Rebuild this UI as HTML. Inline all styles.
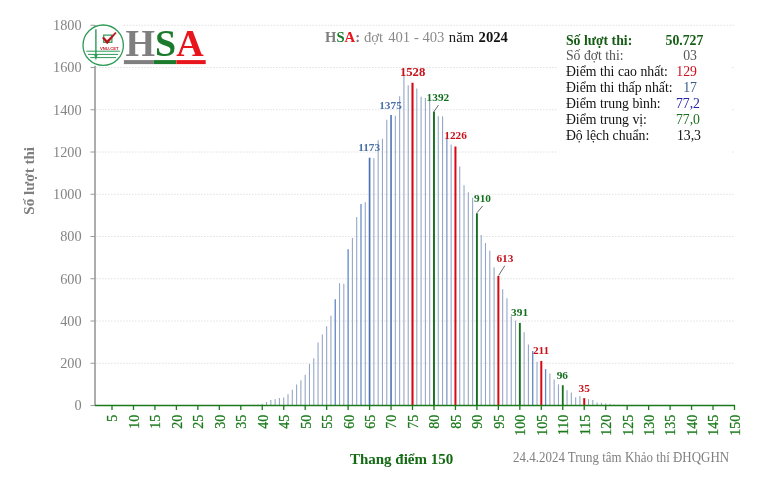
<!DOCTYPE html>
<html><head><meta charset="utf-8"><title>HSA</title>
<style>
html,body{margin:0;padding:0;background:#fff;}
body{width:770px;height:484px;overflow:hidden;font-family:"Liberation Serif",serif;}
svg{display:block;filter:blur(0.25px);font-family:"Liberation Serif",serif;}
</style></head><body>
<svg width="770" height="484" viewBox="0 0 770 484">
<rect width="770" height="484" fill="#fff"/>

<g stroke="#dfdfdf" stroke-width="0.9" stroke-dasharray="1.6 1.4" fill="none">
<line x1="96" y1="363.25" x2="734.5" y2="363.25"/>
<line x1="96" y1="321.00" x2="734.5" y2="321.00"/>
<line x1="96" y1="278.75" x2="734.5" y2="278.75"/>
<line x1="96" y1="236.50" x2="734.5" y2="236.50"/>
<line x1="96" y1="194.25" x2="734.5" y2="194.25"/>
<line x1="96" y1="152.00" x2="734.5" y2="152.00"/>
<line x1="96" y1="109.75" x2="734.5" y2="109.75"/>
<line x1="96" y1="67.50" x2="734.5" y2="67.50"/>
<line x1="123.5" y1="25.25" x2="734.5" y2="25.25"/>
</g>
<g fill="none">
<line x1="249.38" y1="405.50" x2="249.38" y2="404.87" stroke="#95a7c6" stroke-width="1.1"/>
<line x1="253.67" y1="405.50" x2="253.67" y2="404.65" stroke="#95a7c6" stroke-width="1.1"/>
<line x1="257.96" y1="405.50" x2="257.96" y2="404.44" stroke="#95a7c6" stroke-width="1.1"/>
<line x1="262.25" y1="405.50" x2="262.25" y2="403.81" stroke="#95a7c6" stroke-width="1.1"/>
<line x1="266.55" y1="405.50" x2="266.55" y2="402.12" stroke="#95a7c6" stroke-width="1.1"/>
<line x1="270.84" y1="405.50" x2="270.84" y2="400.01" stroke="#95a7c6" stroke-width="1.1"/>
<line x1="275.13" y1="405.50" x2="275.13" y2="399.37" stroke="#95a7c6" stroke-width="1.1"/>
<line x1="279.43" y1="405.50" x2="279.43" y2="398.11" stroke="#95a7c6" stroke-width="1.1"/>
<line x1="283.72" y1="405.50" x2="283.72" y2="397.47" stroke="#95a7c6" stroke-width="1.1"/>
<line x1="288.01" y1="405.50" x2="288.01" y2="394.30" stroke="#95a7c6" stroke-width="1.1"/>
<line x1="292.31" y1="405.50" x2="292.31" y2="389.87" stroke="#95a7c6" stroke-width="1.1"/>
<line x1="296.60" y1="405.50" x2="296.60" y2="384.59" stroke="#95a7c6" stroke-width="1.1"/>
<line x1="300.89" y1="405.50" x2="300.89" y2="380.15" stroke="#95a7c6" stroke-width="1.1"/>
<line x1="305.19" y1="405.50" x2="305.19" y2="374.87" stroke="#95a7c6" stroke-width="1.1"/>
<line x1="309.48" y1="405.50" x2="309.48" y2="363.88" stroke="#95a7c6" stroke-width="1.1"/>
<line x1="313.77" y1="405.50" x2="313.77" y2="358.18" stroke="#95a7c6" stroke-width="1.1"/>
<line x1="318.06" y1="405.50" x2="318.06" y2="342.55" stroke="#95a7c6" stroke-width="1.1"/>
<line x1="322.36" y1="405.50" x2="322.36" y2="334.52" stroke="#95a7c6" stroke-width="1.1"/>
<line x1="326.65" y1="405.50" x2="326.65" y2="326.28" stroke="#95a7c6" stroke-width="1.1"/>
<line x1="330.94" y1="405.50" x2="330.94" y2="315.72" stroke="#95a7c6" stroke-width="1.1"/>
<line x1="335.24" y1="405.50" x2="335.24" y2="299.24" stroke="#5f86c6" stroke-width="1.3"/>
<line x1="339.53" y1="405.50" x2="339.53" y2="283.19" stroke="#95a7c6" stroke-width="1.1"/>
<line x1="343.82" y1="405.50" x2="343.82" y2="283.82" stroke="#95a7c6" stroke-width="1.1"/>
<line x1="348.12" y1="405.50" x2="348.12" y2="249.18" stroke="#5f86c6" stroke-width="1.3"/>
<line x1="352.41" y1="405.50" x2="352.41" y2="237.98" stroke="#95a7c6" stroke-width="1.1"/>
<line x1="356.70" y1="405.50" x2="356.70" y2="217.06" stroke="#95a7c6" stroke-width="1.1"/>
<line x1="360.99" y1="405.50" x2="360.99" y2="203.97" stroke="#6a8ec9" stroke-width="1.3"/>
<line x1="365.29" y1="405.50" x2="365.29" y2="202.28" stroke="#95a7c6" stroke-width="1.1"/>
<line x1="369.58" y1="405.50" x2="369.58" y2="157.70" stroke="#4a74b8" stroke-width="1.7"/>
<line x1="373.87" y1="405.50" x2="373.87" y2="158.34" stroke="#95a7c6" stroke-width="1.1"/>
<line x1="378.17" y1="405.50" x2="378.17" y2="140.17" stroke="#95a7c6" stroke-width="1.1"/>
<line x1="382.46" y1="405.50" x2="382.46" y2="138.69" stroke="#95a7c6" stroke-width="1.1"/>
<line x1="386.75" y1="405.50" x2="386.75" y2="119.68" stroke="#95a7c6" stroke-width="1.1"/>
<line x1="391.05" y1="405.50" x2="391.05" y2="115.03" stroke="#4a74b8" stroke-width="1.6"/>
<line x1="395.34" y1="405.50" x2="395.34" y2="115.67" stroke="#95a7c6" stroke-width="1.1"/>
<line x1="399.63" y1="405.50" x2="399.63" y2="96.23" stroke="#95a7c6" stroke-width="1.1"/>
<line x1="403.92" y1="405.50" x2="403.92" y2="74.47" stroke="#95a7c6" stroke-width="1.1"/>
<line x1="408.22" y1="405.50" x2="408.22" y2="85.25" stroke="#95a7c6" stroke-width="1.1"/>
<line x1="412.51" y1="405.50" x2="412.51" y2="82.71" stroke="#d60812" stroke-width="2.1"/>
<line x1="416.80" y1="405.50" x2="416.80" y2="88.62" stroke="#95a7c6" stroke-width="1.1"/>
<line x1="421.10" y1="405.50" x2="421.10" y2="96.86" stroke="#95a7c6" stroke-width="1.1"/>
<line x1="425.39" y1="405.50" x2="425.39" y2="97.92" stroke="#95a7c6" stroke-width="1.1"/>
<line x1="429.68" y1="405.50" x2="429.68" y2="98.13" stroke="#95a7c6" stroke-width="1.1"/>
<line x1="433.98" y1="405.50" x2="433.98" y2="111.44" stroke="#136f1e" stroke-width="1.9"/>
<line x1="438.27" y1="405.50" x2="438.27" y2="116.30" stroke="#95a7c6" stroke-width="1.1"/>
<line x1="442.56" y1="405.50" x2="442.56" y2="116.30" stroke="#95a7c6" stroke-width="1.1"/>
<line x1="446.85" y1="405.50" x2="446.85" y2="138.06" stroke="#7f9ac8" stroke-width="1.3"/>
<line x1="451.15" y1="405.50" x2="451.15" y2="144.39" stroke="#95a7c6" stroke-width="1.1"/>
<line x1="455.44" y1="405.50" x2="455.44" y2="146.51" stroke="#d60812" stroke-width="2.0"/>
<line x1="459.73" y1="405.50" x2="459.73" y2="166.58" stroke="#95a7c6" stroke-width="1.1"/>
<line x1="464.03" y1="405.50" x2="464.03" y2="185.17" stroke="#95a7c6" stroke-width="1.1"/>
<line x1="468.32" y1="405.50" x2="468.32" y2="192.14" stroke="#95a7c6" stroke-width="1.1"/>
<line x1="472.61" y1="405.50" x2="472.61" y2="197.63" stroke="#95a7c6" stroke-width="1.1"/>
<line x1="476.91" y1="405.50" x2="476.91" y2="213.26" stroke="#136f1e" stroke-width="1.9"/>
<line x1="481.20" y1="405.50" x2="481.20" y2="235.02" stroke="#95a7c6" stroke-width="1.1"/>
<line x1="485.49" y1="405.50" x2="485.49" y2="243.05" stroke="#95a7c6" stroke-width="1.1"/>
<line x1="489.78" y1="405.50" x2="489.78" y2="250.87" stroke="#95a7c6" stroke-width="1.1"/>
<line x1="494.08" y1="405.50" x2="494.08" y2="267.34" stroke="#95a7c6" stroke-width="1.1"/>
<line x1="498.37" y1="405.50" x2="498.37" y2="276.00" stroke="#d60812" stroke-width="2.0"/>
<line x1="502.66" y1="405.50" x2="502.66" y2="289.31" stroke="#95a7c6" stroke-width="1.1"/>
<line x1="506.96" y1="405.50" x2="506.96" y2="298.19" stroke="#95a7c6" stroke-width="1.1"/>
<line x1="511.25" y1="405.50" x2="511.25" y2="316.35" stroke="#95a7c6" stroke-width="1.1"/>
<line x1="515.54" y1="405.50" x2="515.54" y2="320.58" stroke="#95a7c6" stroke-width="1.1"/>
<line x1="519.84" y1="405.50" x2="519.84" y2="322.90" stroke="#136f1e" stroke-width="1.9"/>
<line x1="524.13" y1="405.50" x2="524.13" y2="332.20" stroke="#95a7c6" stroke-width="1.1"/>
<line x1="528.42" y1="405.50" x2="528.42" y2="344.45" stroke="#95a7c6" stroke-width="1.1"/>
<line x1="532.71" y1="405.50" x2="532.71" y2="351.00" stroke="#5f86c6" stroke-width="1.3"/>
<line x1="537.01" y1="405.50" x2="537.01" y2="361.77" stroke="#95a7c6" stroke-width="1.1"/>
<line x1="541.30" y1="405.50" x2="541.30" y2="360.93" stroke="#d60812" stroke-width="2.0"/>
<line x1="545.59" y1="405.50" x2="545.59" y2="369.17" stroke="#5f86c6" stroke-width="1.3"/>
<line x1="549.89" y1="405.50" x2="549.89" y2="373.60" stroke="#95a7c6" stroke-width="1.1"/>
<line x1="554.18" y1="405.50" x2="554.18" y2="379.52" stroke="#95a7c6" stroke-width="1.1"/>
<line x1="558.47" y1="405.50" x2="558.47" y2="384.38" stroke="#95a7c6" stroke-width="1.1"/>
<line x1="562.77" y1="405.50" x2="562.77" y2="385.22" stroke="#136f1e" stroke-width="1.8"/>
<line x1="567.06" y1="405.50" x2="567.06" y2="390.29" stroke="#95a7c6" stroke-width="1.1"/>
<line x1="571.35" y1="405.50" x2="571.35" y2="392.61" stroke="#95a7c6" stroke-width="1.1"/>
<line x1="575.64" y1="405.50" x2="575.64" y2="397.26" stroke="#95a7c6" stroke-width="1.1"/>
<line x1="579.94" y1="405.50" x2="579.94" y2="395.99" stroke="#95a7c6" stroke-width="1.1"/>
<line x1="584.23" y1="405.50" x2="584.23" y2="398.11" stroke="#d60812" stroke-width="2.0"/>
<line x1="588.52" y1="405.50" x2="588.52" y2="399.16" stroke="#95a7c6" stroke-width="1.1"/>
<line x1="592.82" y1="405.50" x2="592.82" y2="400.01" stroke="#95a7c6" stroke-width="1.1"/>
<line x1="597.11" y1="405.50" x2="597.11" y2="402.54" stroke="#95a7c6" stroke-width="1.1"/>
<line x1="601.40" y1="405.50" x2="601.40" y2="402.75" stroke="#95a7c6" stroke-width="1.1"/>
<line x1="605.69" y1="405.50" x2="605.69" y2="403.39" stroke="#95a7c6" stroke-width="1.1"/>
<line x1="609.99" y1="405.50" x2="609.99" y2="403.81" stroke="#95a7c6" stroke-width="1.1"/>
<line x1="614.28" y1="405.50" x2="614.28" y2="404.44" stroke="#95a7c6" stroke-width="1.1"/>
<line x1="618.57" y1="405.50" x2="618.57" y2="404.65" stroke="#95a7c6" stroke-width="1.1"/>
<line x1="622.87" y1="405.50" x2="622.87" y2="404.87" stroke="#95a7c6" stroke-width="1.1"/>
<line x1="627.16" y1="405.50" x2="627.16" y2="405.08" stroke="#95a7c6" stroke-width="1.1"/>
<line x1="631.45" y1="405.50" x2="631.45" y2="405.29" stroke="#95a7c6" stroke-width="1.1"/>
<line x1="635.75" y1="405.50" x2="635.75" y2="405.29" stroke="#95a7c6" stroke-width="1.1"/>
</g>
<rect x="558" y="27" width="173" height="134" fill="#fff"/>
<line x1="95" y1="25.25" x2="95" y2="406.10" stroke="#929292" stroke-width="1.5"/>
<g stroke="#9a9a9a" stroke-width="1">
<line x1="90.5" y1="405.50" x2="95" y2="405.50"/>
<line x1="90.5" y1="363.25" x2="95" y2="363.25"/>
<line x1="90.5" y1="321.00" x2="95" y2="321.00"/>
<line x1="90.5" y1="278.75" x2="95" y2="278.75"/>
<line x1="90.5" y1="236.50" x2="95" y2="236.50"/>
<line x1="90.5" y1="194.25" x2="95" y2="194.25"/>
<line x1="90.5" y1="152.00" x2="95" y2="152.00"/>
<line x1="90.5" y1="109.75" x2="95" y2="109.75"/>
<line x1="90.5" y1="67.50" x2="95" y2="67.50"/>
<line x1="90.5" y1="25.25" x2="95" y2="25.25"/>
</g>
<g font-size="14.3px" fill="#848484" text-anchor="end">
<text x="81.6" y="410.30">0</text>
<text x="81.6" y="368.05">200</text>
<text x="81.6" y="325.80">400</text>
<text x="81.6" y="283.55">600</text>
<text x="81.6" y="241.30">800</text>
<text x="81.6" y="199.05">1000</text>
<text x="81.6" y="156.80">1200</text>
<text x="81.6" y="114.55">1400</text>
<text x="81.6" y="72.30">1600</text>
<text x="81.6" y="30.05">1800</text>
</g>
<line x1="95" y1="405.50" x2="735.1" y2="405.50" stroke="#1b7a1b" stroke-width="1.5"/>
<g stroke="#1b7a1b" stroke-width="1.3">
<line x1="112.00" y1="405.50" x2="112.00" y2="410"/>
<line x1="133.47" y1="405.50" x2="133.47" y2="410"/>
<line x1="154.93" y1="405.50" x2="154.93" y2="410"/>
<line x1="176.39" y1="405.50" x2="176.39" y2="410"/>
<line x1="197.86" y1="405.50" x2="197.86" y2="410"/>
<line x1="219.32" y1="405.50" x2="219.32" y2="410"/>
<line x1="240.79" y1="405.50" x2="240.79" y2="410"/>
<line x1="262.25" y1="405.50" x2="262.25" y2="410"/>
<line x1="283.72" y1="405.50" x2="283.72" y2="410"/>
<line x1="305.19" y1="405.50" x2="305.19" y2="410"/>
<line x1="326.65" y1="405.50" x2="326.65" y2="410"/>
<line x1="348.12" y1="405.50" x2="348.12" y2="410"/>
<line x1="369.58" y1="405.50" x2="369.58" y2="410"/>
<line x1="391.05" y1="405.50" x2="391.05" y2="410"/>
<line x1="412.51" y1="405.50" x2="412.51" y2="410"/>
<line x1="433.98" y1="405.50" x2="433.98" y2="410"/>
<line x1="455.44" y1="405.50" x2="455.44" y2="410"/>
<line x1="476.91" y1="405.50" x2="476.91" y2="410"/>
<line x1="498.37" y1="405.50" x2="498.37" y2="410"/>
<line x1="519.84" y1="405.50" x2="519.84" y2="410"/>
<line x1="541.30" y1="405.50" x2="541.30" y2="410"/>
<line x1="562.77" y1="405.50" x2="562.77" y2="410"/>
<line x1="584.23" y1="405.50" x2="584.23" y2="410"/>
<line x1="605.69" y1="405.50" x2="605.69" y2="410"/>
<line x1="627.16" y1="405.50" x2="627.16" y2="410"/>
<line x1="648.62" y1="405.50" x2="648.62" y2="410"/>
<line x1="670.09" y1="405.50" x2="670.09" y2="410"/>
<line x1="691.56" y1="405.50" x2="691.56" y2="410"/>
<line x1="713.02" y1="405.50" x2="713.02" y2="410"/>
<line x1="734.49" y1="405.50" x2="734.49" y2="410"/>
</g>
<g font-size="14px" fill="#1b7a1b" stroke="#1b7a1b" stroke-width="0.25" text-anchor="end">
<text transform="translate(117.40,414.8) rotate(-90)">5</text>
<text transform="translate(138.87,414.8) rotate(-90)">10</text>
<text transform="translate(160.33,414.8) rotate(-90)">15</text>
<text transform="translate(181.79,414.8) rotate(-90)">20</text>
<text transform="translate(203.26,414.8) rotate(-90)">25</text>
<text transform="translate(224.72,414.8) rotate(-90)">30</text>
<text transform="translate(246.19,414.8) rotate(-90)">35</text>
<text transform="translate(267.65,414.8) rotate(-90)">40</text>
<text transform="translate(289.12,414.8) rotate(-90)">45</text>
<text transform="translate(310.58,414.8) rotate(-90)">50</text>
<text transform="translate(332.05,414.8) rotate(-90)">55</text>
<text transform="translate(353.51,414.8) rotate(-90)">60</text>
<text transform="translate(374.98,414.8) rotate(-90)">65</text>
<text transform="translate(396.44,414.8) rotate(-90)">70</text>
<text transform="translate(417.91,414.8) rotate(-90)">75</text>
<text transform="translate(439.38,414.8) rotate(-90)">80</text>
<text transform="translate(460.84,414.8) rotate(-90)">85</text>
<text transform="translate(482.31,414.8) rotate(-90)">90</text>
<text transform="translate(503.77,414.8) rotate(-90)">95</text>
<text transform="translate(525.24,414.8) rotate(-90)">100</text>
<text transform="translate(546.70,414.8) rotate(-90)">105</text>
<text transform="translate(568.17,414.8) rotate(-90)">110</text>
<text transform="translate(589.63,414.8) rotate(-90)">115</text>
<text transform="translate(611.09,414.8) rotate(-90)">120</text>
<text transform="translate(632.56,414.8) rotate(-90)">125</text>
<text transform="translate(654.02,414.8) rotate(-90)">130</text>
<text transform="translate(675.49,414.8) rotate(-90)">135</text>
<text transform="translate(696.96,414.8) rotate(-90)">140</text>
<text transform="translate(718.42,414.8) rotate(-90)">145</text>
<text transform="translate(739.88,414.8) rotate(-90)">150</text>
</g>
<text x="358.2" y="151.1" font-size="11.3px" font-weight="bold" fill="#4a6fa8">1173</text>
<text x="379.2" y="108.7" font-size="11.3px" font-weight="bold" fill="#4a6fa8">1375</text>
<text x="399.9" y="75.8" font-size="12.7px" font-weight="bold" fill="#c8101a">1528</text>
<text x="426.6" y="100.8" font-size="11.3px" font-weight="bold" fill="#136f1e">1392</text>
<text x="444.3" y="139" font-size="11.3px" font-weight="bold" fill="#c8101a">1226</text>
<text x="474" y="202" font-size="11.3px" font-weight="bold" fill="#136f1e">910</text>
<text x="496.4" y="262.3" font-size="11.3px" font-weight="bold" fill="#c8101a">613</text>
<text x="511.1" y="316.3" font-size="11.3px" font-weight="bold" fill="#136f1e">391</text>
<text x="532.9" y="354.1" font-size="11.3px" font-weight="bold" fill="#c8101a">211</text>
<text x="556.7" y="378.5" font-size="11.3px" font-weight="bold" fill="#136f1e">96</text>
<text x="578.6" y="391.5" font-size="11.3px" font-weight="bold" fill="#c8101a">35</text>
<g stroke="#444" stroke-width="0.8">
<line x1="438.5" y1="105.1" x2="434.1" y2="111.3"/>
<line x1="482.7" y1="205.9" x2="477" y2="212.7"/>
<line x1="504.8" y1="265.7" x2="498.6" y2="275.5"/>
</g>
<rect x="82" y="26.3" width="126" height="39.5" fill="#fff"/>
<g>
<circle cx="103.2" cy="45.2" r="20.2" fill="#fff" stroke="#2c9a55" stroke-width="1.3"/>
<line x1="95.9" y1="29.2" x2="95.9" y2="56.5" stroke="#2c9a55" stroke-width="1.4"/>
<path d="M94.1 54.5 L97.7 54.5 L95.9 60.6 Z" fill="#2c9a55"/>
<g stroke="#2c9a55" stroke-width="1">
<line x1="86.4" y1="51.2" x2="119.9" y2="51.2"/>
<line x1="88" y1="54.4" x2="118.2" y2="54.4"/>
<line x1="90.3" y1="57.6" x2="116" y2="57.6"/>
</g>
<rect x="103.7" y="35.1" width="8.2" height="7.2" fill="none" stroke="#2c9a55" stroke-width="1.2"/>
<path d="M102.3 37.9 L104 37.3 L107.1 40.6 L115.3 32.2 L116.3 32.9 L107.2 43.9 Z" fill="#b5121b" stroke="#b5121b" stroke-width="0.5" stroke-linejoin="round"/>
<text x="109.3" y="49.9" font-family="Liberation Sans, sans-serif" font-size="4.2px" font-weight="bold" fill="#c8202a" text-anchor="middle">VNU-CET</text>
</g>
<text x="125.5" y="55.5" font-size="38px" font-weight="bold"><tspan fill="#7f7f7f">H</tspan><tspan fill="#1b7a2c">S</tspan><tspan fill="#e8161c">A</tspan></text>
<rect x="123.9" y="60.1" width="29.9" height="4" fill="#7f7f7f"/>
<rect x="153.8" y="60.1" width="22.6" height="4" fill="#1b7a2c"/>
<rect x="176.4" y="60.1" width="29.3" height="4" fill="#e8161c"/>
<g font-size="14.67px">
<text x="325" y="42.2" font-weight="bold"><tspan fill="#7f7f7f">H</tspan><tspan fill="#1b7a2c">S</tspan><tspan fill="#e8161c">A</tspan><tspan fill="#7f7f7f">:</tspan></text>
<text x="364.0" y="42.2" fill="#8a8a8a">đợt</text>
<text x="388.2" y="42.2" fill="#8a8a8a">401</text>
<text x="414.0" y="42.2" fill="#8a8a8a">-</text>
<text x="422.4" y="42.2" fill="#8a8a8a">403</text>
<text x="448.8" y="42.2" fill="#1a1a1a">năm</text>
<text x="478.6" y="42.2" fill="#111" font-weight="bold">2024</text>
</g>
<text transform="translate(34.4,180.8) rotate(-90)" text-anchor="middle" font-size="15.1px" font-weight="bold" fill="#7f7f7f">Số lượt thi</text>
<text x="349.9" y="463.9" font-size="15px" font-weight="bold" fill="#136a13">Thang điểm 150</text>
<text x="513.1" y="462.4" font-size="14px" fill="#808080" textLength="216" lengthAdjust="spacingAndGlyphs">24.4.2024 Trung tâm Khảo thí ĐHQGHN</text>
<g transform="translate(565.9,0) scale(0.9,1)">
<text x="0" y="44.6" font-size="15.3px" font-weight="bold" fill="#145c14">Số lượt thi:</text>
<text x="152.78" y="44.6" font-size="15.3px" font-weight="bold" fill="#145c14" text-anchor="end">50.727</text>
<text x="0" y="60.5" font-size="15.3px" fill="#555">Số đợt thi:</text>
<text x="145.67" y="60.5" font-size="15.3px" fill="#555" text-anchor="end">03</text>
<text x="0" y="76.4" font-size="15.3px" fill="#111">Điểm thi cao nhất:</text>
<text x="145.67" y="76.4" font-size="15.3px" fill="#c8101a" text-anchor="end">129</text>
<text x="0" y="92.3" font-size="15.3px" fill="#111">Điểm thi thấp nhất:</text>
<text x="145.67" y="92.3" font-size="15.3px" fill="#3b5a8c" text-anchor="end">17</text>
<text x="0" y="108.3" font-size="15.3px" fill="#111">Điểm trung bình:</text>
<text x="149.00" y="108.3" font-size="15.3px" fill="#2424a8" text-anchor="end">77,2</text>
<text x="0" y="124.2" font-size="15.3px" fill="#111">Điểm trung vị:</text>
<text x="149.00" y="124.2" font-size="15.3px" fill="#1b6f1b" text-anchor="end">77,0</text>
<text x="0" y="140" font-size="15.3px" fill="#111">Độ lệch chuẩn:</text>
<text x="150.11" y="140" font-size="15.3px" fill="#111" text-anchor="end">13,3</text>
</g>
</svg></body></html>
